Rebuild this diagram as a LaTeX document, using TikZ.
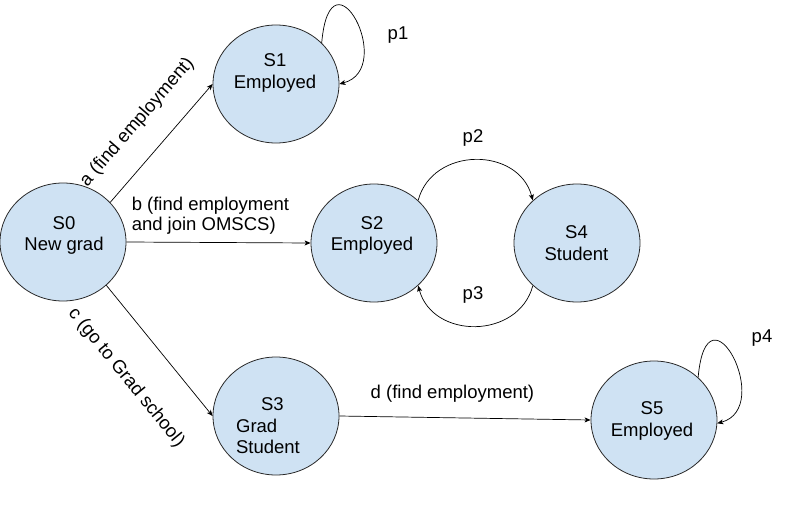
\documentclass[tikz,border=0pt]{standalone}
\usepackage{fontspec}
\setmainfont{Liberation Sans}
\usetikzlibrary{arrows.meta, positioning, shapes.geometric}
\definecolor{statefill}{RGB}{207, 226, 243}
\definecolor{stateline}{RGB}{40, 40, 40}

\begin{document}
\begin{tikzpicture}[
    x=1pt, y=1pt,
    state/.style={ellipse, draw=stateline, fill=statefill, line width=0.8pt,
                  minimum width=126pt, minimum height=118pt, inner sep=0pt},
    stxt/.style={font=\fontsize{18.5}{21.5}\selectfont, align=center,
                 inner sep=0pt},
    arr/.style={-{Stealth[length=6pt, width=5pt, inset=1.5pt]},
                line width=0.7pt},
    lbl/.style={font=\fontsize{18.5}{20.5}\selectfont, inner sep=2pt}
]

\useasboundingbox (0,0) rectangle (788,-506);

% states
\node[state] (s0) at (63,-242) {};
\node[state] (s1) at (276,-84) {};
\node[state] (s2) at (374,-243) {};
\node[state] (s4) at (577,-243) {};
\node[state] (s3) at (276,-416) {};
\node[state] (s5) at (654,-420) {};

\node[stxt] (s0txt) at (64,-235.4) {S0\\New grad};
\node[stxt] (s1txt) at (275,-73) {S1\\Employed};
\node[stxt] (s2txt) at (372,-235.4) {S2\\Employed};
\node[stxt] (s4txt) at (576.5,-243) {S4\\Student};
\node[stxt, align=left] (s3txt) at (268,-426)
    {\hspace*{25pt}S3\\Grad\\Student};
\node[stxt] (s5txt) at (652,-421) {S5\\Employed};

% transitions out of S0
\draw[arr] (s0.40) -- (s1.west)
    node[lbl, midway, sloped, above=21pt] (la) {a (find employment)};
\draw[arr] (s0.east) -- (s2.west)
    node[lbl, pos=0, anchor=south west, xshift=3pt, yshift=5pt, align=left] (lb)
    {b (find employment\\and join OMSCS)};
\draw[arr] (s0.-45) -- (s3.west)
    node[lbl, midway, sloped, below=32pt] (lc) {c (go to Grad school)};
\draw[arr] (s3.east) -- (s5.west)
    node[lbl, pos=0.45, above=13pt] (ld) {d (find employment)};

% loops and back-and-forth
\draw[arr] (s1.42) to[out=85, in=15, out distance=100pt, in distance=60pt] (s1.east);
\draw[arr] (s2.44) to[out=75, in=105, looseness=1.25] (s4.136);
\draw[arr] (s4.224) to[out=-105, in=-75, looseness=1.25] (s2.-44);
\draw[arr] (s5.44) to[out=85, in=15, out distance=100pt, in distance=60pt] (s5.-3);

\node[lbl] (lp1) at (398,-35) {p1};
\node[lbl] (lp2) at (473,-138) {p2};
\node[lbl] (lp3) at (473,-295) {p3};
\node[lbl] (lp4) at (762,-338) {p4};

\end{tikzpicture}
\end{document}
